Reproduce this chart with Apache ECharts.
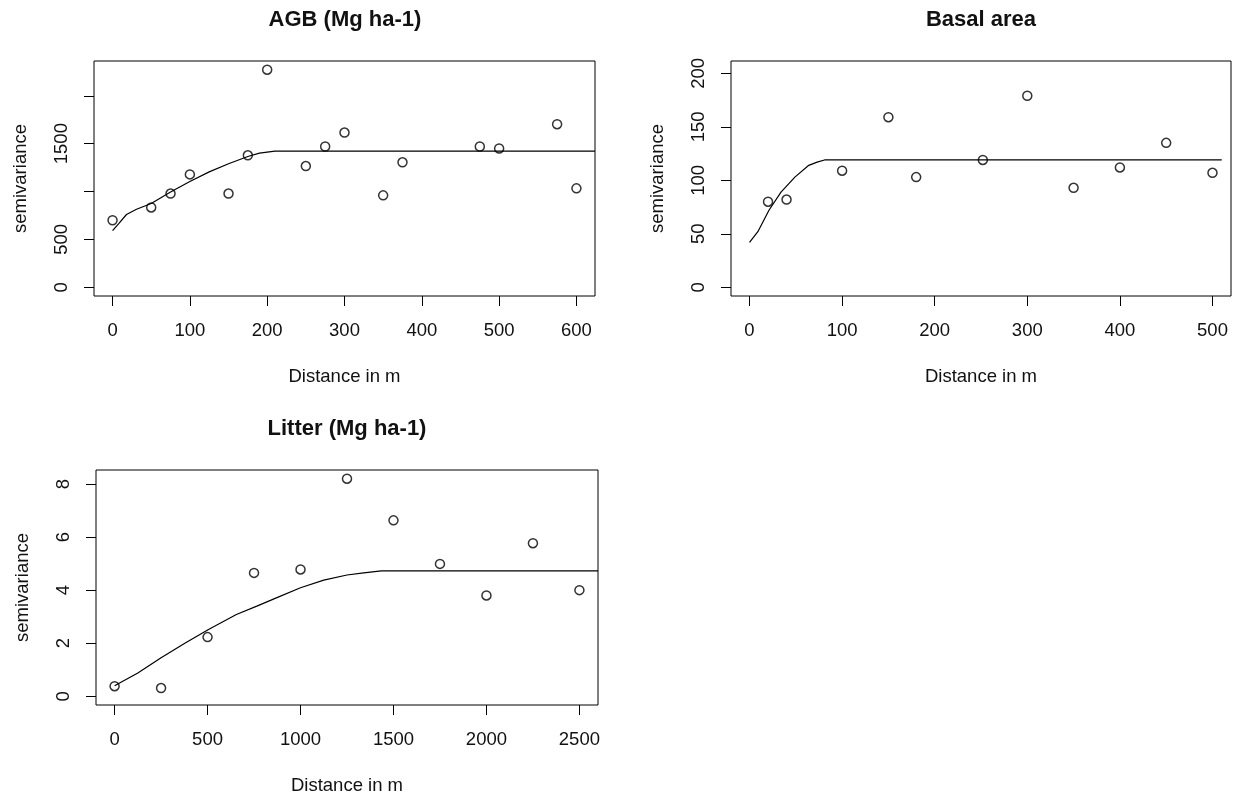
<!DOCTYPE html>
<html>
<head>
<meta charset="utf-8">
<script src="https://cdn.jsdelivr.net/npm/echarts@6/dist/echarts.min.js"></script>
<style>
html,body{margin:0;padding:0;background:#fff;}
#chart{width:1236px;height:796px;}
</style>
</head>
<body>
<div id="chart"></div>
<script>
// ---------- data ----------
var agbTitle = 'AGB (Mg ha-1)';
var agbDist = [0, 50, 75, 100, 150, 175, 200, 250, 275, 300, 350, 375, 475, 500, 575, 600];
var agbGamma = [700, 834, 979, 1179, 979, 1378, 2272, 1266, 1470, 1616, 960, 1305, 1470, 1450, 1703, 1033];
var agbFitDist = [0, 8, 18, 31, 50, 75, 100, 125, 150, 175, 190, 210, 624];
var agbFitGamma = [592, 665, 760, 815, 875, 995, 1105, 1205, 1290, 1366, 1401, 1422, 1422];
var agbXTicks = [0, 100, 200, 300, 400, 500, 600];
var agbYTicks = [0, 500, 1000, 1500, 2000];
var agbYLabels = [0, 500, 1500];

var basalTitle = 'Basal area';
var basalDist = [20, 40, 100, 150, 180, 252, 300, 350, 400, 450, 500];
var basalGamma = [80, 82, 109, 159, 103, 119, 179, 93, 112, 135, 107];
var basalFitDist = [0, 9, 21, 34, 49, 64, 73, 81, 510];
var basalFitGamma = [42, 52, 72, 89, 103, 114, 117, 119, 119];
var basalXTicks = [0, 100, 200, 300, 400, 500];
var basalYTicks = [0, 50, 100, 150, 200];
var basalYLabels = [0, 50, 100, 150, 200];

var litterTitle = 'Litter (Mg ha-1)';
var litterDist = [0, 250, 500, 750, 1000, 1250, 1500, 1750, 2000, 2250, 2500];
var litterGamma = [0.38, 0.31, 2.23, 4.65, 4.78, 8.2, 6.63, 4.99, 3.80, 5.77, 4.0];
var litterFitDist = [0, 125, 250, 380, 505, 655, 765, 870, 1000, 1125, 1250, 1340, 1435, 2600];
var litterFitGamma = [0.40, 0.88, 1.45, 2.01, 2.52, 3.08, 3.40, 3.71, 4.09, 4.38, 4.57, 4.65, 4.73, 4.73];
var litterXTicks = [0, 500, 1000, 1500, 2000, 2500];
var litterYTicks = [0, 2, 4, 6, 8];
var litterYLabels = [0, 2, 4, 6, 8];

var xName = 'Distance in m';
var yName = 'semivariance';

// ---------- helpers ----------
var FONT = '"Liberation Sans", Arial, sans-serif';
var TXT = '#111';
var FS = 18.5;
function pairs(xs, ys) { return xs.map(function (x, i) { return [x, ys[i]]; }); }
function plain(v) { return String(v); }

function xAxisCfg(gi, min, max, ticks) {
  return {
    type: 'value', gridIndex: gi, min: min, max: max, position: 'bottom',
    axisLine: { show: false, onZero: false },
    axisTick: { show: true, inside: false, length: 10, customValues: ticks, lineStyle: { color: '#000', width: 1 } },
    axisLabel: { show: true, customValues: ticks, formatter: plain, margin: 25, fontSize: FS, color: TXT, fontFamily: FONT },
    splitLine: { show: false },
    name: xName, nameLocation: 'middle', nameGap: 71,
    nameTextStyle: { fontSize: FS, color: TXT, fontFamily: FONT }
  };
}
function yAxisCfg(gi, min, max, ticks, labels) {
  return {
    type: 'value', gridIndex: gi, min: min, max: max, position: 'left',
    axisLine: { show: false, onZero: false },
    axisTick: { show: true, inside: false, length: 10, customValues: ticks, lineStyle: { color: '#000', width: 1 } },
    axisLabel: { show: true, customValues: labels, formatter: plain, rotate: 90, margin: 23, fontSize: FS, color: TXT, fontFamily: FONT },
    splitLine: { show: false },
    name: yName, nameLocation: 'middle', nameGap: 64,
    nameTextStyle: { fontSize: FS, color: TXT, fontFamily: FONT }
  };
}
function pts(gi, xs, ys) {
  return {
    type: 'scatter', xAxisIndex: gi, yAxisIndex: gi,
    data: pairs(xs, ys), symbol: 'circle', symbolSize: 9,
    itemStyle: { color: 'rgba(255,255,255,0)', borderColor: '#000', borderWidth: 1.5 },
    emphasis: { disabled: true }, z: 3
  };
}
function fit(gi, xs, ys) {
  return {
    type: 'line', xAxisIndex: gi, yAxisIndex: gi,
    data: pairs(xs, ys), showSymbol: false, symbol: 'none', smooth: false,
    lineStyle: { color: '#000', width: 1.2 }, z: 2
  };
}
function title(text, x, y) {
  return { type: 'text', x: x, y: y, silent: true,
    style: { text: text, align: 'center', verticalAlign: 'middle', fontSize: 22, fontWeight: 'bold', fontFamily: FONT, fill: TXT } };
}

var gridStyle = { show: true, borderColor: '#000', borderWidth: 1, backgroundColor: 'transparent', containLabel: false };

var option = {
  backgroundColor: '#fff',
  animation: false,
  grid: [
    Object.assign({ left: 94, top: 61, width: 501, height: 235 }, gridStyle),
    Object.assign({ left: 731, top: 61, width: 500, height: 235 }, gridStyle),
    Object.assign({ left: 96, top: 470, width: 502, height: 235 }, gridStyle)
  ],
  xAxis: [
    xAxisCfg(0, -24, 624, agbXTicks),
    xAxisCfg(1, -20, 520, basalXTicks),
    xAxisCfg(2, -100, 2600, litterXTicks)
  ],
  yAxis: [
    yAxisCfg(0, -91, 2363, agbYTicks, agbYLabels),
    yAxisCfg(1, -8.14, 211.5, basalYTicks, basalYLabels),
    yAxisCfg(2, -0.328, 8.528, litterYTicks, litterYLabels)
  ],
  series: [
    fit(0, agbFitDist, agbFitGamma), pts(0, agbDist, agbGamma),
    fit(1, basalFitDist, basalFitGamma), pts(1, basalDist, basalGamma),
    fit(2, litterFitDist, litterFitGamma), pts(2, litterDist, litterGamma)
  ],
  graphic: [
    title(agbTitle, 345, 20),
    title(basalTitle, 981, 20),
    title(litterTitle, 347, 429)
  ]
};

var chart = echarts.init(document.getElementById('chart'), null, { renderer: 'canvas' });
chart.setOption(option);
</script>
</body>
</html>
